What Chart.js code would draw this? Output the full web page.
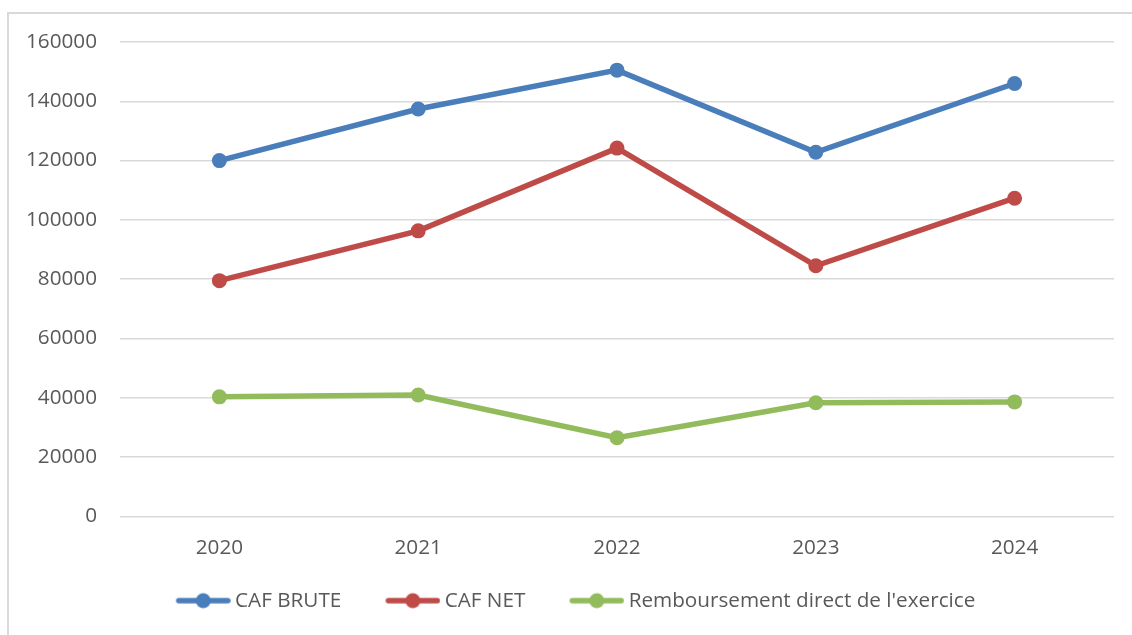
<!DOCTYPE html>
<html>
<head>
<meta charset="utf-8">
<script src="https://cdn.jsdelivr.net/npm/chart.js@4.4.1/dist/chart.umd.min.js"></script>
<style>
  body { margin: 0; background: #fff; overflow: hidden; }
  #frame { position: absolute; left: 7px; top: 12px; width: 1200px; height: 700px;
           border-left: 2px solid #d9d9d9; border-top: 2px solid #d9d9d9; }
  #chart { position: absolute; left: 0; top: 0; }
</style>
</head>
<body>
<div id="frame"><canvas id="chart" width="1133" height="607"></canvas></div>
<script>
// values
var years = ['2020', '2021', '2022', '2023', '2024'];
var cafBrute = [120000, 137400, 150500, 122800, 146000];
var cafNet = [79500, 96300, 124200, 84500, 107300];
var remboursement = [40300, 40900, 26500, 38300, 38600];
var yTicks = [0, 20000, 40000, 60000, 80000, 100000, 120000, 140000, 160000];

var colors = ['#4A7EBB', '#BE4B48', '#92BB5C'];
var textColor = '#595959';
var font = { family: 'Open Sans', size: 20.7 };

// line + dot icon for the legend (excel style). drawn off-centre on purpose:
// the legend centres the image on its box, this pushes the mark toward the text
var BOX_W = 64;
var ICON_SHIFT = 15;
function legendIcon(color) {
  var w = (BOX_W / 2 + 6) * 2;
  var x0 = w / 2 - BOX_W / 2 + ICON_SHIFT;
  var c = document.createElement('canvas');
  c.width = w; c.height = 18;
  var g = c.getContext('2d');
  g.strokeStyle = color; g.lineWidth = 5.5; g.lineCap = 'round';
  g.beginPath(); g.moveTo(x0 + 3, 9); g.lineTo(x0 + 52, 9); g.stroke();
  g.fillStyle = color;
  g.beginPath(); g.arc(x0 + 27.5, 9, 7.5, 0, Math.PI * 2); g.fill();
  return c;
}
var icons = colors.map(legendIcon);

function serie(label, data, color) {
  return {
    label: label,
    data: data,
    borderColor: color,
    backgroundColor: color,
    borderWidth: 5.5,
    pointRadius: 7.5,
    pointHoverRadius: 7.5,
    pointBorderWidth: 0,
    pointBackgroundColor: color,
    tension: 0
  };
}

var ctx = document.getElementById('chart').getContext('2d');
var myChart = new Chart(ctx, {
  type: 'line',
  data: {
    labels: years,
    datasets: [
      serie('CAF BRUTE', cafBrute, colors[0]),
      serie('CAF NET', cafNet, colors[1]),
      serie("Remboursement direct de l'exercice", remboursement, colors[2])
    ]
  },
  options: {
    responsive: false,
    animation: false,
    layout: { padding: { top: 28, right: 28, left: 13, bottom: 0 } },
    plugins: {
      tooltip: { enabled: false },
      legend: {
        position: 'bottom',
        labels: {
          usePointStyle: true,
          pointStyleWidth: BOX_W,
          padding: 29,
          color: textColor,
          font: font,
          generateLabels: function (chart) {
            var items = Chart.defaults.plugins.legend.labels.generateLabels(chart);
            items.forEach(function (it, i) { it.pointStyle = icons[i]; });
            return items;
          }
        }
      }
    },
    scales: {
      x: {
        offset: true,
        grid: { display: false, drawTicks: false },
        border: { display: false },
        ticks: { color: textColor, font: font, padding: 19, maxRotation: 0 },
        afterFit: function (scale) { scale.height = 45; }
      },
      y: {
        min: 0,
        max: 160000,
        afterBuildTicks: function (scale) {
          scale.ticks = yTicks.map(function (v) { return { value: v }; });
        },
        grid: { color: '#d9d9d9', lineWidth: 1.5, drawTicks: true, tickLength: 23, tickColor: 'rgba(0,0,0,0)' },
        border: { display: false },
        ticks: {
          color: textColor, font: font, padding: 0,
          callback: function (v) { return String(v); }
        },
        afterFit: function (scale) { scale.width = 98; }
      }
    }
  }
});
</script>
</body>
</html>
